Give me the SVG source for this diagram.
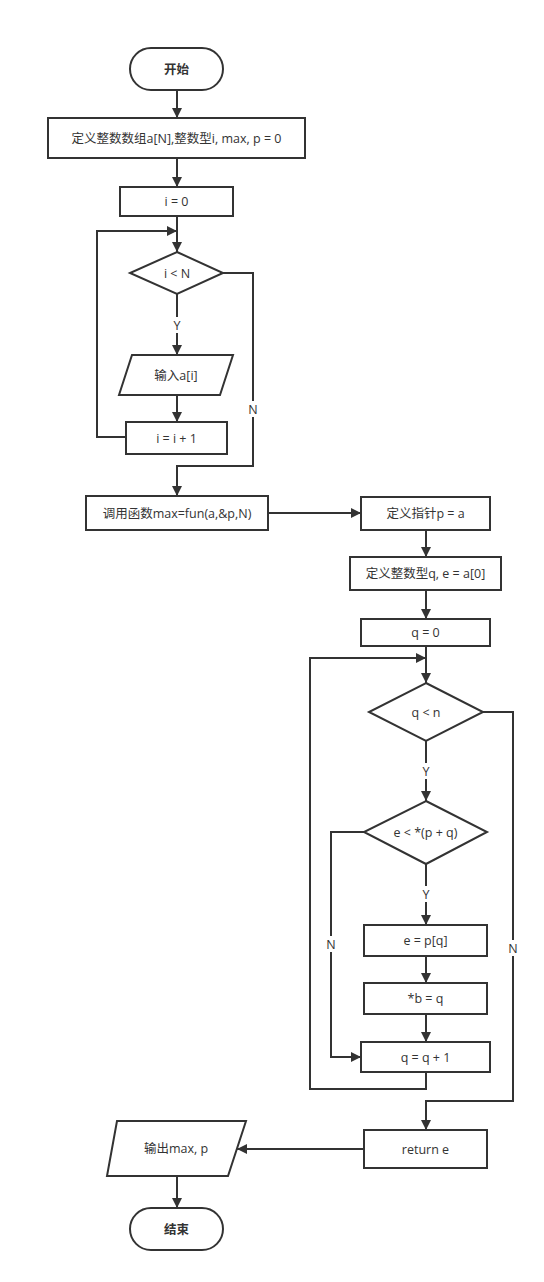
<svg xmlns="http://www.w3.org/2000/svg" width="544" height="1282" viewBox="0 0 544 1282">
<style>
.s{fill:#fff;stroke:#333;stroke-width:2}
.c{fill:none;stroke:#333;stroke-width:2}
text{font-family:"Open Sans","Noto Sans CJK SC","Liberation Sans",sans-serif;font-size:12.5px;fill:#333;text-anchor:middle;dominant-baseline:central}
.b{font-weight:bold}
.lb{fill:#fff;stroke:none}
</style>
<defs>
<marker id="a" viewBox="0 0 10 10" refX="10" refY="5" markerWidth="10" markerHeight="10" markerUnits="userSpaceOnUse" orient="auto">
<path d="M0,0 L10,5 L0,10 z" fill="#333"/>
</marker>
</defs>
<rect width="544" height="1282" fill="#fff"/>
<g id="connectors">
<path class="c" d="M177,90 V118" marker-end="url(#a)"/>
<path class="c" d="M177,158 V187" marker-end="url(#a)"/>
<path class="c" d="M177,216 V252" marker-end="url(#a)"/>
<path class="c" d="M126,437 H97 V231 H177" marker-end="url(#a)"/>
<path class="c" d="M177,294 V355" marker-end="url(#a)"/>
<path class="c" d="M177,395 V422" marker-end="url(#a)"/>
<path class="c" d="M223,273 H253 V466 H177 V496" marker-end="url(#a)"/>
<path class="c" d="M268,513 H361" marker-end="url(#a)"/>
<path class="c" d="M426,530 V557" marker-end="url(#a)"/>
<path class="c" d="M426,590 V619" marker-end="url(#a)"/>
<path class="c" d="M426,646 V683" marker-end="url(#a)"/>
<path class="c" d="M426,1072 V1089 H310 V658 H426" marker-end="url(#a)"/>
<path class="c" d="M426,741 V801" marker-end="url(#a)"/>
<path class="c" d="M426,864 V925" marker-end="url(#a)"/>
<path class="c" d="M426,956 V983" marker-end="url(#a)"/>
<path class="c" d="M426,1014 V1042" marker-end="url(#a)"/>
<path class="c" d="M364,832 H331 V1057 H361" marker-end="url(#a)"/>
<path class="c" d="M483,712 H513 V1101 H426 V1130" marker-end="url(#a)"/>
<path class="c" d="M364,1149 H237" marker-end="url(#a)"/>
<path class="c" d="M177,1176 V1208" marker-end="url(#a)"/>
<rect class="lb" x="170" y="317" width="14" height="16"/>
<text x="177" y="325">Y</text>
<rect class="lb" x="246" y="401" width="14" height="16"/>
<text x="253" y="409">N</text>
<rect class="lb" x="419" y="763" width="14" height="16"/>
<text x="426" y="771">Y</text>
<rect class="lb" x="419" y="886" width="14" height="16"/>
<text x="426" y="894">Y</text>
<rect class="lb" x="324" y="936" width="14" height="16"/>
<text x="331" y="944">N</text>
<rect class="lb" x="506" y="940" width="14" height="16"/>
<text x="513" y="948">N</text>
</g>
<g id="start"><rect class="s" x="130" y="48" width="93" height="42" rx="21"/><text class="b" x="176.5" y="69">开始</text></g>
<g id="define1"><rect class="s" x="48" y="118" width="257" height="40"/><text x="176.5" y="138">定义整数数组a[N],整数型i, max, p = 0</text></g>
<g id="i0"><rect class="s" x="120" y="187" width="113" height="29"/><text x="176.5" y="201.5">i = 0</text></g>
<g id="cond1"><path class="s" d="M177,252 L223,273 L177,294 L130,273 Z"/><text x="177" y="273">i &lt; N</text></g>
<g id="input"><path class="s" d="M132,355 H233 L220,395 H119 Z"/><text x="176" y="375">输入a[i]</text></g>
<g id="inc1"><rect class="s" x="126" y="422" width="101" height="32"/><text x="176.5" y="438">i = i + 1</text></g>
<g id="call"><rect class="s" x="86" y="496" width="182" height="34"/><text x="177" y="513">调用函数max=fun(a,&amp;p,N)</text></g>
<g id="defp"><rect class="s" x="361" y="497" width="129" height="33"/><text x="425.5" y="513.5">定义指针p = a</text></g>
<g id="defq"><rect class="s" x="350" y="557" width="151" height="33"/><text x="425.5" y="573.5">定义整数型q, e = a[0]</text></g>
<g id="q0"><rect class="s" x="361" y="619" width="129" height="27"/><text x="425.5" y="632.5">q = 0</text></g>
<g id="cond2"><path class="s" d="M426,683 L483,712 L426,741 L369,712 Z"/><text x="426" y="712">q &lt; n</text></g>
<g id="cond3"><path class="s" d="M426,801 L487,832 L426,864 L364,832 Z"/><text x="425.5" y="832">e &lt; *(p + q)</text></g>
<g id="epq"><rect class="s" x="364" y="925" width="123" height="31"/><text x="425.5" y="940.5">e = p[q]</text></g>
<g id="bq"><rect class="s" x="364" y="983" width="123" height="31"/><text x="425.5" y="998.5">*b = q</text></g>
<g id="inc2"><rect class="s" x="361" y="1042" width="129" height="30"/><text x="425.5" y="1057">q = q + 1</text></g>
<g id="ret"><rect class="s" x="364" y="1130" width="123" height="38"/><text x="425.5" y="1149">return e</text></g>
<g id="output"><path class="s" d="M117,1121 H246 L228,1176 H107 Z"/><text x="176" y="1148.5">输出max, p</text></g>
<g id="end"><rect class="s" x="130" y="1208" width="93" height="42" rx="21"/><text class="b" x="176.5" y="1229">结束</text></g>
</svg>
